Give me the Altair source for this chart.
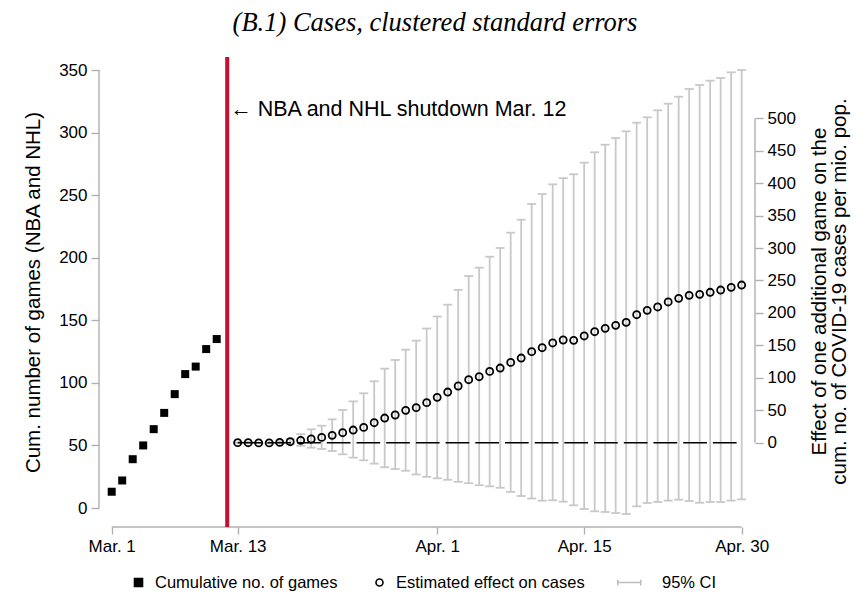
import json
import altair as alt
import pandas as pd

# ---------------- data ----------------
base_date = "2020-03-01"

games_dates = pd.date_range("2020-03-01", "2020-03-11").strftime("%Y-%m-%d").tolist()
games_cum = [13, 22, 39, 50, 63, 76, 91, 107, 113, 127, 135]

effect_dates = pd.date_range("2020-03-13", "2020-04-30").strftime("%Y-%m-%d").tolist()
effect_est = [0.1, 0.0, -0.3, -0.3, 0.5, 1.5, 3.6, 5.7, 8.2, 11.3, 15.4, 19.5, 23.6, 30.8,
              38.0, 42.7, 49.9, 54.0, 61.7, 69.9, 78.1, 87.4, 97.1, 101.7, 109.9, 115.1,
              123.8, 130.5, 140.3, 146.4, 153.7, 158.3, 157.8, 164.5, 171.1, 176.3, 180.9,
              185.5, 197.3, 204.0, 209.2, 216.9, 222.5, 227.1, 228.7, 231.8, 235.3, 239.5,
              243.0]
effect_lo = [0.0, -0.3, -0.8, -1.2, -1.5, -2.5, -4.8, -7.7, -9.7, -12.8, -17.9, -23.1, -27.2,
             -32.3, -37.9, -40.5, -43.2, -49.0, -52.6, -54.9, -57.2, -60.3, -62.4, -65.5,
             -67.3, -69.5, -75.8, -82.2, -86.0, -89.3, -88.8, -90.9, -96.5, -102.2, -105.8,
             -106.8, -108.4, -109.9, -98.1, -92.9, -91.4, -89.3, -87.8, -89.9, -92.5, -91.4,
             -91.4, -89.3, -87.3]
effect_hi = [0.2, 0.4, 0.3, 0.7, 2.5, 5.5, 13.2, 20.6, 26.2, 36.0, 50.4, 63.8, 76.1, 94.6,
             114.1, 127.5, 143.4, 157.3, 176.0, 194.5, 212.7, 235.6, 256.9, 269.8, 286.7,
             300.1, 323.7, 343.7, 367.9, 383.3, 398.2, 407.7, 413.7, 431.6, 447.6, 459.3,
             469.6, 479.9, 493.2, 501.5, 512.3, 522.5, 533.3, 545.2, 551.3, 558.0, 562.1,
             570.9, 574.4]

shutdown_date = "2020-03-12"
shutdown_label = "\u2190 NBA and NHL shutdown Mar. 12"
shutdown_label_y = 318

x_tick_dates = ["2020-03-01", "2020-03-13", "2020-04-01", "2020-04-15", "2020-04-30"]
x_tick_labels = ["Mar. 1", "Mar. 13", "Apr. 1", "Apr. 15", "Apr. 30"]
left_ticks = [0, 50, 100, 150, 200, 250, 300, 350]
right_ticks = [0, 50, 100, 150, 200, 250, 300, 350, 400, 450, 500]

legend_labels = ["Cumulative no. of games", "Estimated effect on cases", "95% CI"]

title_text = "(B.1) Cases, clustered standard errors"
left_title = "Cum. number of games (NBA and NHL)"
right_title = ["Effect of one additional game on the",
               "cum. no. of COVID-19 cases per mio. pop."]

# ---------------- style / layout ----------------
SANS = "Liberation Sans"
SERIF = "Liberation Serif"
AX = "#b0b0b0"
CI = "#c8c8c8"
RED = "#c8102e"
W, H = 656, 470
X_DOMAIN = [-1.21, 61.27]
LY_DOMAIN = [-15.18, 360.39]
RY_DOMAIN = [-129.93, 594.48]


def to_day(s):
    return (pd.Timestamp(s) - pd.Timestamp(base_date)).days


x_tick_days = [to_day(d) for d in x_tick_dates]

games_df = pd.DataFrame({"day": [to_day(d) for d in games_dates], "games": games_cum})
eff_df = pd.DataFrame({"day": [to_day(d) for d in effect_dates], "est": effect_est,
                       "lo": effect_lo, "hi": effect_hi})
zero_df = pd.DataFrame({"d0": [eff_df["day"].min()], "d1": [eff_df["day"].max()], "zero": [0]})
shut_df = pd.DataFrame({"day": [to_day(shutdown_date)], "y": [shutdown_label_y],
                        "text": [shutdown_label]})
laxis_df = pd.DataFrame({"y0": [min(left_ticks)], "y1": [max(left_ticks)]})
raxis_df = pd.DataFrame({"y0": [min(right_ticks)], "y1": [max(right_ticks)]})
xaxis_df = pd.DataFrame({"d0": [min(x_tick_days)], "d1": [max(x_tick_days)]})
legend_df = pd.DataFrame({"label": legend_labels})

label_expr = f"{json.dumps(x_tick_labels)}[indexof({json.dumps(x_tick_days)}, datum.value)]"

x_scale = alt.Scale(domain=X_DOMAIN, nice=False, zero=False)
x_axis = alt.Axis(values=x_tick_days, labelExpr=label_expr, title=None, domain=False,
                  grid=False, tickSize=7, tickColor=AX, tickWidth=1.4, labelFontSize=17,
                  labelFont=SANS, labelColor="black", labelPadding=4, labelFlush=False)

ly_scale = alt.Scale(domain=LY_DOMAIN, nice=False, zero=False)
ly_axis = alt.Axis(values=left_ticks, orient="left", title=left_title, titleFontSize=20.5,
                   titleFont=SANS, titleFontWeight="normal", titleColor="black",
                   titleX=-66, titleY=235, titleAngle=270, titleAlign="center",
                   titleBaseline="middle", domain=False, grid=False, tickSize=8,
                   tickColor=AX, tickWidth=1.4, labelFontSize=17, labelFont=SANS,
                   labelColor="black", labelPadding=4, labelFlush=False)

ry_scale = alt.Scale(domain=RY_DOMAIN, nice=False, zero=False)
ry_axis = alt.Axis(values=right_ticks, orient="right", title=right_title, titleFontSize=20.5,
                   titleFont=SANS, titleFontWeight="normal", titleColor="black",
                   titleX=64, titleY=234, titleAngle=270, titleAlign="center",
                   titleBaseline="middle", titleLineHeight=20, domain=False, grid=False,
                   tickSize=8, tickColor=AX, tickWidth=1.4, labelFontSize=17,
                   labelFont=SANS, labelColor="black", labelPadding=4, labelFlush=False)


def X(f):
    return alt.X(f"{f}:Q", scale=x_scale, axis=x_axis)


def LY(f):
    return alt.Y(f"{f}:Q", scale=ly_scale, axis=ly_axis)


def RY(f):
    return alt.Y(f"{f}:Q", scale=ry_scale, axis=ry_axis)


# ---------------- left (games) group ----------------
xline = alt.Chart(xaxis_df).mark_rule(color=AX, strokeWidth=1.4).encode(
    x=X("d0"), x2="d1", y=alt.value(H))
lline = alt.Chart(laxis_df).mark_rule(color=AX, strokeWidth=1.4).encode(
    x=alt.value(0), y=LY("y0"), y2="y1")
red = alt.Chart(shut_df).mark_rule(color=RED, strokeWidth=4).encode(x=X("day"))
annot = alt.Chart(shut_df).mark_text(align="left", baseline="middle", dx=3, fontSize=21.5,
                                     font=SANS, color="black").encode(
    x=X("day"), y=LY("y"), text="text:N")
squares = alt.Chart(games_df).mark_point(shape="square", filled=True, color="black",
                                         size=64, opacity=1).encode(x=X("day"), y=LY("games"))

sq_path = "M-0.348,-0.348H0.348V0.348H-0.348Z"
circ_path = "M-0.304,0A0.304,0.304,0,1,1,0.304,0A0.304,0.304,0,1,1,-0.304,0Z"
ci_sym = "M-2.413,-0.25L-2.413,0.25M-2.413,0L-0.413,0M-0.413,-0.25L-0.413,0.25"
legend_dummy = alt.Chart(legend_df).mark_point(clip=True, opacity=1).encode(
    x=alt.value(-200), y=alt.value(-200),
    shape=alt.Shape("label:N", title=None,
                    scale=alt.Scale(domain=legend_labels, range=[sq_path, circ_path, ci_sym])),
    fill=alt.Fill("label:N", title=None,
                  scale=alt.Scale(domain=legend_labels, range=["black", "transparent", "transparent"])),
    stroke=alt.Stroke("label:N", title=None,
                      scale=alt.Scale(domain=legend_labels, range=["black", "black", "#bdbdbd"])),
)

left = alt.layer(xline, lline, red, annot, squares, legend_dummy)

# ---------------- right (effect) group ----------------
ci = alt.Chart(eff_df).mark_rule(color=CI, strokeWidth=1.8).encode(
    x=X("day"), y=RY("lo"), y2="hi")
cap_lo = alt.Chart(eff_df).mark_tick(orient="horizontal", size=9, thickness=1.8, color=CI,
                                     opacity=1).encode(x=X("day"), y=RY("lo"))
cap_hi = alt.Chart(eff_df).mark_tick(orient="horizontal", size=9, thickness=1.8, color=CI,
                                     opacity=1).encode(x=X("day"), y=RY("hi"))
zero = alt.Chart(zero_df).mark_rule(color="black", strokeWidth=1.6,
                                    strokeDash=[23.7, 6]).encode(
    x=X("d0"), x2="d1", y=RY("zero"))
circles = alt.Chart(eff_df).mark_point(shape="circle", filled=False, color="black",
                                       strokeWidth=1.8, size=50, opacity=1).encode(
    x=X("day"), y=RY("est"))
rline = alt.Chart(raxis_df).mark_rule(color=AX, strokeWidth=1.4).encode(
    x=alt.value(W), y=RY("y0"), y2="y1")

right = alt.layer(ci, cap_lo, cap_hi, zero, circles, rline)

chart = alt.layer(left, right).resolve_scale(y="independent").properties(
    width=W, height=H,
    padding={"left": 91, "top": 49, "right": 102, "bottom": 70},
    autosize=alt.AutoSizeParams(type="none"),
    title=alt.TitleParams(text=title_text, font=SERIF, fontStyle="italic",
                          fontWeight="normal", fontSize=26.5, color="black",
                          anchor="middle", frame="group", offset=19, dx=8),
).configure_view(strokeOpacity=0).configure_legend(
    orient="none", legendX=27, legendY=513, direction="horizontal",
    labelFontSize=16.5, labelFont=SANS, labelColor="black", labelLimit=400,
    labelOffset=4, columnPadding=29, symbolSize=529, symbolStrokeWidth=1.6,
    padding=0, gridAlign="each",
)

chart.save("out.html", embed_options={"renderer": "svg", "actions": False})
